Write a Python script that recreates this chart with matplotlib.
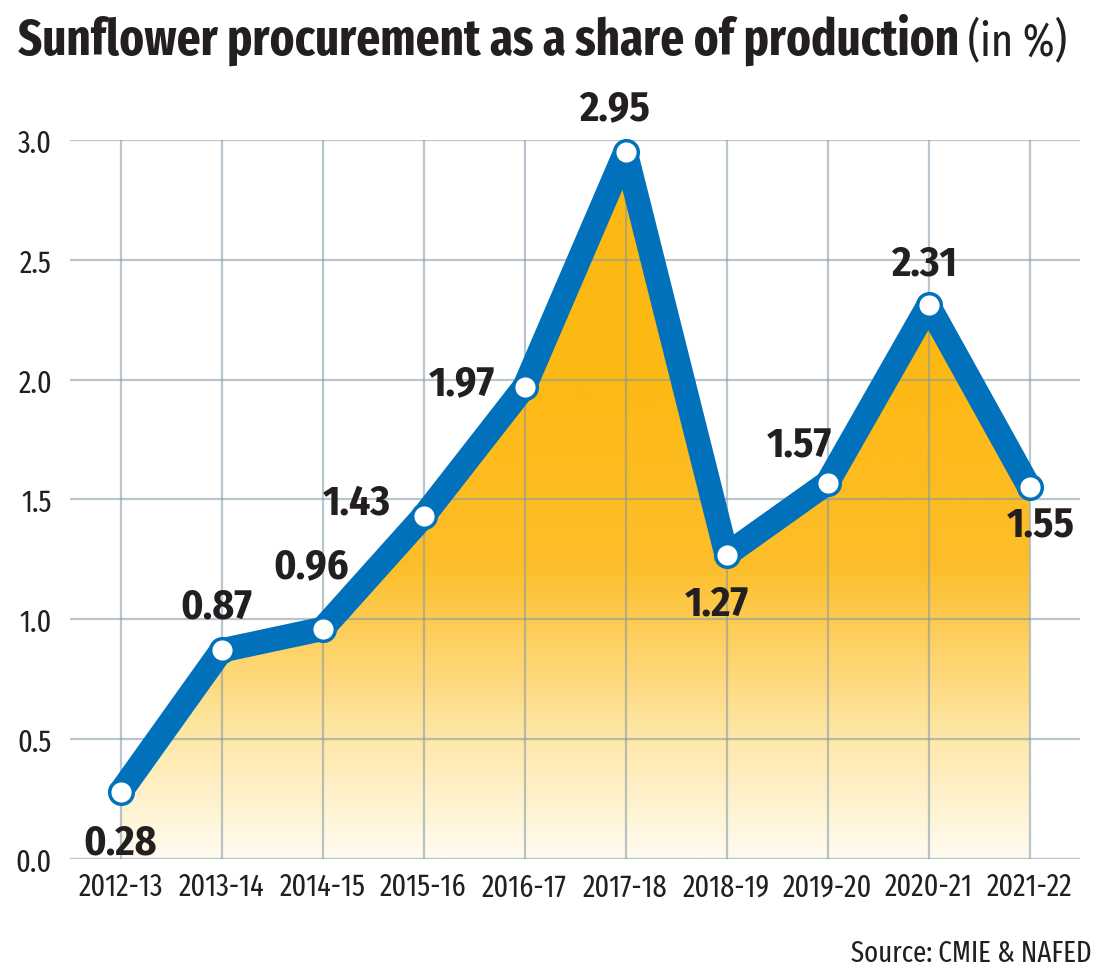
import numpy as np
import matplotlib.pyplot as plt
from matplotlib.colors import LinearSegmentedColormap

years = ['2012-13', '2013-14', '2014-15', '2015-16', '2016-17',
         '2017-18', '2018-19', '2019-20', '2020-21', '2021-22']
share = [0.28, 0.87, 0.96, 1.43, 1.97, 2.95, 1.27, 1.57, 2.31, 1.55]
yticks = [0.0, 0.5, 1.0, 1.5, 2.0, 2.5, 3.0]

# label offsets in points (dx, dy) relative to each point
label_offsets = [(0, -36), (-4, 32), (-8, 45), (-48, 10), (-45, 3),
                 (-8, 32), (-7, -35), (-20, 27), (-3, 30), (8, -27)]

BLUE = '#0071BA'
ORANGE = '#FDB913'
GRID = '#8197A5'
INK = '#231F20'
FONT = ['Fira Sans Condensed', 'DejaVu Sans']
NARROW = ['Fira Sans Extra Condensed', 'DejaVu Sans']

plt.rcParams['font.family'] = FONT

fig = plt.figure(figsize=(11.06, 9.79), dpi=100)
ax = fig.add_axes([0.0633, 0.1216, 0.9132, 0.7344])

x = np.arange(len(years))
ax.set_xlim(-0.5, len(years) - 0.5)
ax.set_ylim(0, 3.0)

# gradient fill under the line
poly = ax.fill_between(x, share, 0, color='none', lw=0)
cmap = LinearSegmentedColormap.from_list(
    'sun', [(0, '#FFFBF0'), (0.25, '#FEE7A6'), (0.6, '#FDBE2A'), (1, ORANGE)])
grad = np.linspace(0, 1, 256).reshape(-1, 1)
grad = np.clip(grad / 0.68, 0, 1)
img = ax.imshow(grad, extent=[-0.5, len(years) - 0.5, 0, 3.0], origin='lower',
                aspect='auto', cmap=cmap, vmin=0, vmax=1, zorder=1)
img.set_clip_path(poly.get_paths()[0], transform=ax.transData)

# grid drawn above the fill
for yv in yticks:
    ax.axhline(yv, color=GRID, lw=1.6, alpha=0.55, zorder=2)
for xv in x:
    ax.axvline(xv, color=GRID, lw=1.6, alpha=0.55, zorder=2)

ax.plot(x, share, color=BLUE, lw=17.5, solid_joinstyle='round',
        solid_capstyle='round', zorder=3, clip_on=False)
ax.plot(x, share, 'o', ms=17, mfc='white', mec=BLUE, mew=2.5,
        zorder=4, clip_on=False)

for xi, yi, (dx, dy) in zip(x, share, label_offsets):
    ax.annotate(f'{yi:.2f}', (xi, yi), xytext=(dx, dy), textcoords='offset points',
                ha='center', va='center', fontsize=30, fontweight='bold',
                color=INK, zorder=5, annotation_clip=False)

for s in ax.spines.values():
    s.set_visible(False)
ax.set_xticks(x)
ax.set_xticklabels(years, family=NARROW)
ax.set_yticks(yticks)
ax.set_yticklabels([f'{v:.1f}' for v in yticks], family=NARROW)
ax.tick_params(axis='both', length=0, labelsize=22, colors=INK)
ax.tick_params(axis='y', pad=13)
ax.tick_params(axis='x', pad=9)

t1 = fig.text(0.016, 0.944, 'Sunflower procurement as a share of production',
              fontsize=36.5, fontweight='bold', color=INK, va='baseline', family=NARROW)
fig.canvas.draw()
bb = t1.get_window_extent()
fig.text(bb.x1 / fig.bbox.width + 0.008, 0.944, '(in %)', fontsize=33,
         fontweight='normal', color=INK, va='baseline', family=NARROW)

fig.text(0.987, 0.017, 'Source: CMIE & NAFED', fontsize=21, color=INK,
         ha='right', va='baseline', family=NARROW)

fig.savefig('out.png', dpi=100)
